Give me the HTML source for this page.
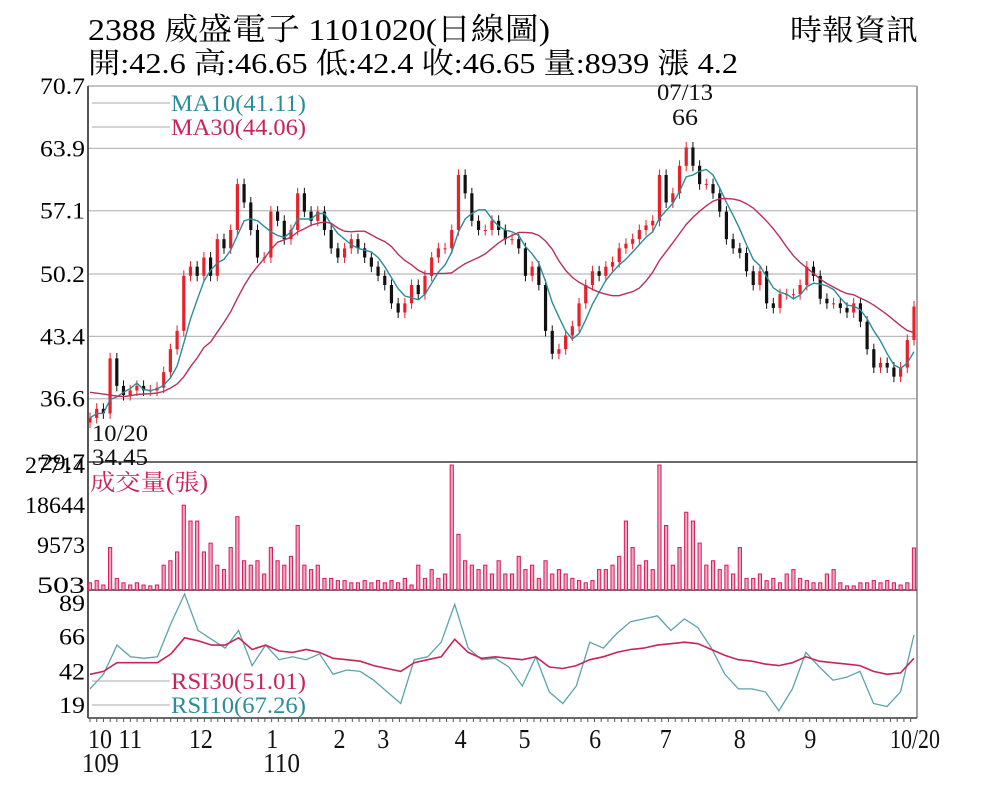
<!DOCTYPE html>
<html><head><meta charset="utf-8"><style>
html,body{margin:0;padding:0;background:#fff;}
svg{display:block;font-family:"Liberation Serif","Noto Serif CJK SC","Noto Sans CJK TC",serif;}
</style></head><body>
<svg id="chart" width="1000" height="800" viewBox="0 0 1000 800">
<text x="88" y="40" font-size="31" textLength="462" lengthAdjust="spacingAndGlyphs">2388  威盛電子 1101020(日線圖)</text>
<text x="88" y="73" font-size="29" textLength="650" lengthAdjust="spacingAndGlyphs">開:42.6 高:46.65 低:42.4 收:46.65 量:8939 漲 4.2</text>
<text x="790" y="40" font-size="29" textLength="128" lengthAdjust="spacingAndGlyphs">時報資訊</text>
<g id="g"></g>
</svg>
<script>
const closes=[34.5,35.5,35,41,38,37,37.5,38,37.5,37.5,37.8,39.5,42,44,50,51,50,52,50,54,53,55,60,58,55,52,52,57,56,54,55,59,57,56,57,55,53,52,53,54,53,52,51,50,49,47,46,47,49,48,50,52,53,53,55,61,59,56,55,55,56,55,54,54,53,50,51,49,44,41.5,42,43.5,44.5,47,49,50.5,50,51,51.5,53,53.5,54,55,55.5,56,61,58,59,62,64,62,60,60,59,57,54,53,52.5,50.5,49,50.5,47,46.5,48,48,48,49,51,50,47.5,47,47,46.5,46,47,45,42,40,40.5,40,39,40,43,46.65];
const volumes=[1,1.5,0.5,9,2,1,0.5,1,0.5,0.3,0.5,5,6,8,18.6,15,15,8,10,5,4,9,16,6,5,6,3,9,6,5,7,14,5,4,5,2,2,1.5,1.5,1,1,1.5,1,1.5,1,1.5,1,2,0.5,5,2,4,2,3,27.7,12,6,5,4,5,3,6,3,3,7,4,5,2,6,3,4,3,2,1.5,1,1.5,4,4,5,7,15,9,5,6,4,27.7,14,5,9,17,15,10,5,6,4,5,3,9,2,2,3,1.5,2,1,3,4,2,1.5,1,1,3,4,1,0.3,0.3,1,1,1.5,1,1.5,1,0.5,1,8.9];
const rsi10=[30,40,60,52,51,52,75,95,70,64,58,70,46,60,50,52,50,54,40,43,42,36,28,20,50,52,62,88,58,50,51,45,32,52,28,20,32,62,58,68,76,78,80,70,78,72,58,40,30,30,28,15,30,55,45,36,38,42,20,18,28,67];
const rsi30=[40,42,48,48,48,48,54,65,63,60,60,65,57,60,56,55,57,55,51,50,49,46,44,42,48,50,52,64,55,51,52,51,50,52,45,44,46,50,52,55,57,58,60,61,62,61,57,53,50,49,47,46,48,52,49,48,47,46,42,40,41,51];
const priceTicks=[70.7,63.9,57.1,50.2,43.4,36.6,29.7];
const volTicks=[27714,18644,9573,503];
const rsiTicks=[89,66,42,19];
const monthLabels=["10","11","12","1","2","3","4","5","6","7","8","9","10/20"];
const monthIdx=[0,9,30,53,73,86,109,128,149,170,192,213,245];

const NS="http://www.w3.org/2000/svg",G=document.getElementById('g');
const L=88,R=917,X0=90,X1=914;
function el(t,a,p){const e=document.createElementNS(NS,t);for(const k in a)e.setAttribute(k,a[k]);(p||G).appendChild(e);return e;}
const yP=p=>462-(p-29.7)*376/41;
const yV=v=>585-(v-503)*40/9071;
const yR=r=>705-(r-19)*1.46;
const xi=(i,n)=>X0+i*(X1-X0)/(n-1);
const xDay=d=>X0+d*(X1-X0)/245;

// grid
priceTicks.forEach(t=>{const y=yP(t);
 if(t<70&&t>30){const g=el('line',{x1:L,x2:R,y1:y,y2:y,stroke:'#bbb','stroke-width':1.3});
 
 }
 const tx=el('text',{x:85,y:y+8,'font-size':23,'text-anchor':'end',textLength:45,lengthAdjust:'spacingAndGlyphs'});tx.textContent=t.toFixed(1);
 
 
});
volTicks.forEach(t=>{const y=yV(t);
 const tx=el('text',{x:85,y:y+8,'font-size':23,'text-anchor':'end',textLength:t>9999?60:48,lengthAdjust:'spacingAndGlyphs'});tx.textContent=t;
 
 
});
rsiTicks.forEach(t=>{const y=yR(t);
 const tx=el('text',{x:85,y:y+8,'font-size':23,'text-anchor':'end',textLength:26,lengthAdjust:'spacingAndGlyphs'});tx.textContent=t;
 
 
});

// frames
[[L,86,R,86,'#bbb'],[R,86,R,718,'#999'],[L,462,R,462,'#555'],[L,590,R,590,'#555'],[L,86,L,718,'#444'],[L,718,R,718,'#555']].forEach(a=>{
 const e=el('line',{x1:a[0],y1:a[1],x2:a[2],y2:a[3],stroke:a[4],'stroke-width':1.8});
 
 
});
for(let d=0;d<=245;d+=2){const x=xDay(d);const e=el('line',{x1:x,x2:x,y1:718,y2:722,stroke:'#555','stroke-width':1});
 
 }

// candles
const n=closes.length,bw=3.2;
closes.forEach((c,i)=>{const o=i?closes[i-1]:34;const x=xi(i,n);const up=c>=o;
 const col=up?'#e8202a':'#111';
 const hi=Math.max(o,c)+0.6,lo=Math.min(o,c)-0.6;
 const w=el('line',{x1:x,x2:x,y1:yP(hi),y2:yP(lo),stroke:col,'stroke-width':1});
 
 
 const b=el('rect',{x:x-bw/2,y:yP(Math.max(o,c)),width:bw,height:Math.max(1,Math.abs(yP(o)-yP(c))),fill:col});
 
 
});
function ma(k){return closes.map((c,i)=>{const s=closes.slice(Math.max(0,i-k+1),i+1);return s.reduce((a,b)=>a+b,0)/s.length;});}
function path(arr,fy,col,name,w){const d=arr.map((v,i)=>(i?'L':'M')+xi(i,arr.length).toFixed(1)+','+fy(v).toFixed(1)).join('');
 const p=el('path',{d:d,fill:'none',stroke:col,'stroke-width':w||1.4});
 
 }
const ma30=ma(15).map((v,i)=>i<8?Math.max(v,36.5+ (8-i)*0.1):v);
path(ma(5),yP,'#2a8c9c','ma10-line');
path(ma30,yP,'#b8305a','ma30-line');

// volume
volumes.forEach((v,i)=>{const x=xi(i,volumes.length);const y=yV(v*1000);
 const b=el('rect',{x:x-1.6,y:y,width:3.2,height:590-y,fill:'#f3a6c0',stroke:'#d81b5a','stroke-width':1});
 
 });

// RSI
path(rsi10,yR,'#5aa3ad','rsi10-line',1.3);
path(rsi30,yR,'#c8245a','rsi30-line',1.6);

// legends
function leg(y,col,txt,name){const l=el('line',{x1:92,x2:170,y1:y,y2:y,stroke:'#aaa','stroke-width':1});
 
 
 const t=el('text',{x:171,y:y+8,'font-size':23,fill:col,textLength:135,lengthAdjust:'spacingAndGlyphs'});t.textContent=txt;
 
 }
leg(103,'#2a8c9c','MA10(41.11)','ma10-legend');
leg(127,'#c8245a','MA30(44.06)','ma30-legend');
leg(681,'#c8245a','RSI30(51.01)','rsi30-legend');
leg(705,'#2a8c9c','RSI10(67.26)','rsi10-legend');
function txt(x,y,s,fs,len,name,col,anchor){const t=el('text',{x:x,y:y,'font-size':fs,fill:col||'#111',textLength:len,lengthAdjust:'spacingAndGlyphs','text-anchor':anchor||'start'});t.textContent=s;
 
 }
txt(90,490,'成交量(張)',23,118,'volume-title','#c8245a');
txt(92,441,'10/20',23,56,'low-date-label');
txt(92,465,'34.45',23,56,'low-value-label');
txt(657,100,'07/13',23,56,'high-date-label');
txt(672,125,'66',23,26,'high-value-label');
monthLabels.forEach((m,i)=>{const x=xDay(monthIdx[i]);
 const len=m.length===1?12:(m.length===2?24:50);
 txt(i===12?x+1:x-2,748,m,27,len,'month-label','#111',i===12?'middle':'start');});
txt(82,772,'109',27,37,'year-label-109');
txt(263,772,'110',27,37,'year-label-110');
</script>
</body></html>
